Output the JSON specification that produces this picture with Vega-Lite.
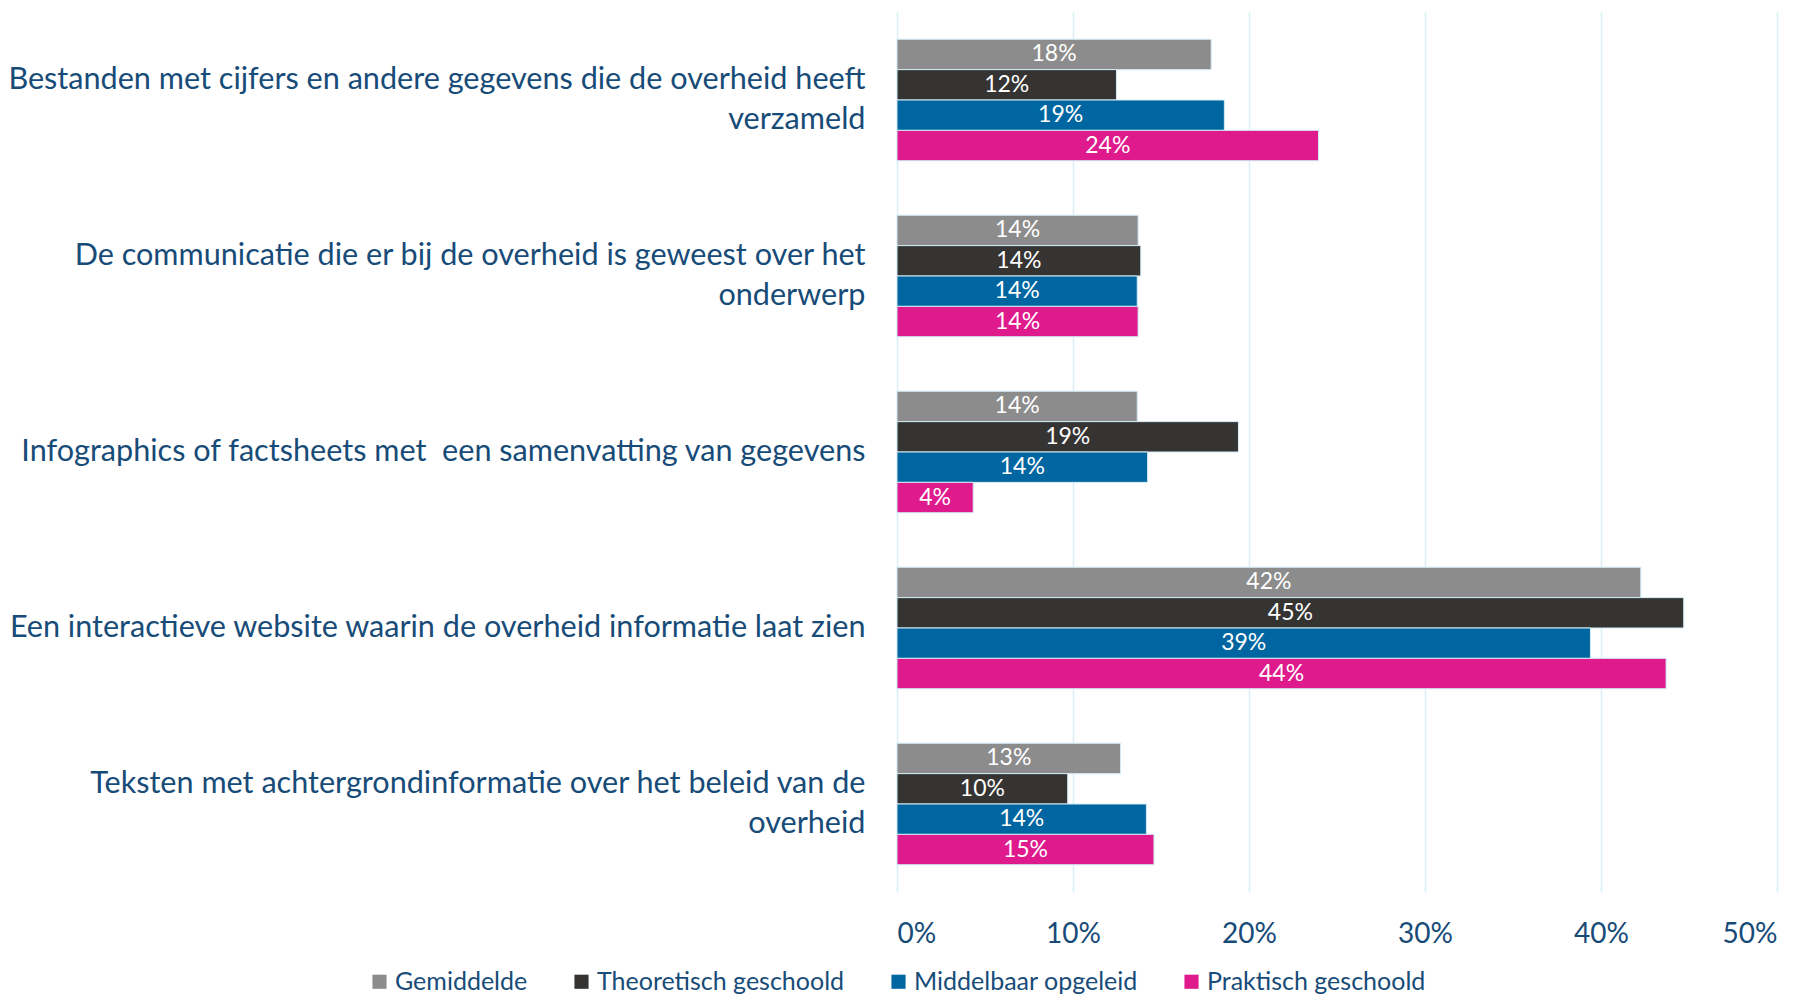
{
  "$schema": "https://vega.github.io/schema/vega-lite/v6.json",
  "autosize": {"type": "none"},
  "width": 880,
  "height": 880,
  "padding": {"left": 897, "top": 12, "right": 39, "bottom": 103},
  "background": "white",
  "config": {"view": {"stroke": null}, "font": "Lato"},
  "data": {"values": [
    {"cat": "Bestanden met cijfers en andere gegevens die de overheid heeft|verzameld", "order": 1, "series": "Gemiddelde", "s": 1, "value": 0.1785},
    {"cat": "Bestanden met cijfers en andere gegevens die de overheid heeft|verzameld", "order": 1, "series": "Theoretisch geschoold", "s": 2, "value": 0.1247},
    {"cat": "Bestanden met cijfers en andere gegevens die de overheid heeft|verzameld", "order": 1, "series": "Middelbaar opgeleid", "s": 3, "value": 0.186},
    {"cat": "Bestanden met cijfers en andere gegevens die de overheid heeft|verzameld", "order": 1, "series": "Praktisch geschoold", "s": 4, "value": 0.2395},
    {"cat": "De communicatie die er bij de overheid is geweest over het|onderwerp", "order": 2, "series": "Gemiddelde", "s": 1, "value": 0.137},
    {"cat": "De communicatie die er bij de overheid is geweest over het|onderwerp", "order": 2, "series": "Theoretisch geschoold", "s": 2, "value": 0.1385},
    {"cat": "De communicatie die er bij de overheid is geweest over het|onderwerp", "order": 2, "series": "Middelbaar opgeleid", "s": 3, "value": 0.1365},
    {"cat": "De communicatie die er bij de overheid is geweest over het|onderwerp", "order": 2, "series": "Praktisch geschoold", "s": 4, "value": 0.137},
    {"cat": "Infographics of factsheets met \u00a0een samenvatting van gegevens", "order": 3, "series": "Gemiddelde", "s": 1, "value": 0.1365},
    {"cat": "Infographics of factsheets met \u00a0een samenvatting van gegevens", "order": 3, "series": "Theoretisch geschoold", "s": 2, "value": 0.194},
    {"cat": "Infographics of factsheets met \u00a0een samenvatting van gegevens", "order": 3, "series": "Middelbaar opgeleid", "s": 3, "value": 0.1424},
    {"cat": "Infographics of factsheets met \u00a0een samenvatting van gegevens", "order": 3, "series": "Praktisch geschoold", "s": 4, "value": 0.0433},
    {"cat": "Een interactieve website waarin de overheid informatie laat zien", "order": 4, "series": "Gemiddelde", "s": 1, "value": 0.4226},
    {"cat": "Een interactieve website waarin de overheid informatie laat zien", "order": 4, "series": "Theoretisch geschoold", "s": 2, "value": 0.447},
    {"cat": "Een interactieve website waarin de overheid informatie laat zien", "order": 4, "series": "Middelbaar opgeleid", "s": 3, "value": 0.394},
    {"cat": "Een interactieve website waarin de overheid informatie laat zien", "order": 4, "series": "Praktisch geschoold", "s": 4, "value": 0.437},
    {"cat": "Teksten met achtergrondinformatie over het beleid van de|overheid", "order": 5, "series": "Gemiddelde", "s": 1, "value": 0.127},
    {"cat": "Teksten met achtergrondinformatie over het beleid van de|overheid", "order": 5, "series": "Theoretisch geschoold", "s": 2, "value": 0.097},
    {"cat": "Teksten met achtergrondinformatie over het beleid van de|overheid", "order": 5, "series": "Middelbaar opgeleid", "s": 3, "value": 0.1417},
    {"cat": "Teksten met achtergrondinformatie over het beleid van de|overheid", "order": 5, "series": "Praktisch geschoold", "s": 4, "value": 0.146}
  ]},
  "transform": [{"calculate": "datum.value / 2", "as": "mid"}],
  "encoding": {
    "y": {
      "field": "cat", "type": "nominal",
      "sort": {"field": "order", "op": "min"},
      "scale": {"paddingInner": 0.31, "paddingOuter": 0.155},
      "axis": {
        "title": null, "domain": false, "ticks": false,
        "labelExpr": "split(datum.label, '|')",
        "labelOffset": {"condition": {"test": "indexof(datum.value, '|') >= 0", "value": -20}, "value": 0},
        "labelFontSize": 30.6, "labelColor": "#174b78", "labelLimit": 1000,
        "labelPadding": 32, "labelLineHeight": 40, "labelFont": "Lato"
      }
    },
    "yOffset": {"field": "series", "type": "nominal", "sort": {"field": "s", "op": "min"}, "scale": {"paddingInner": 0, "paddingOuter": 0}}
  },
  "layer": [
    {
      "mark": {"type": "bar", "stroke": "#d3ebf4", "strokeWidth": 1},
      "encoding": {
        "x": {
          "field": "value", "type": "quantitative",
          "scale": {"domain": [0, 0.5], "nice": false},
          "axis": {
            "title": null, "format": ".0%", "values": [0, 0.1, 0.2, 0.3, 0.4, 0.5],
            "domain": false, "ticks": false, "grid": true, "gridColor": "#d9f0f8", "gridWidth": 1.5,
            "labelFontSize": 28, "labelColor": "#174b78", "labelPadding": 28, "labelFont": "Lato"
          }
        },
        "color": {
          "field": "series", "type": "nominal",
          "sort": ["Gemiddelde", "Theoretisch geschoold", "Middelbaar opgeleid", "Praktisch geschoold"],
          "scale": {"domain": ["Gemiddelde", "Theoretisch geschoold", "Middelbaar opgeleid", "Praktisch geschoold"], "range": ["#8c8c8c", "#353433", "#0066a1", "#de1a8c"]},
          "legend": {
            "title": null, "orient": "none", "direction": "horizontal",
            "legendX": -530, "legendY": 957,
            "symbolType": "square", "symbolSize": 200, "symbolStrokeWidth": 0,
            "labelFontSize": 25, "labelColor": "#174b78", "labelFont": "Lato", "labelOffset": 3,
            "columnPadding": 41, "labelLimit": 500
          }
        }
      }
    },
    {
      "mark": {"type": "text", "color": "white", "fontSize": 23, "font": "Lato", "baseline": "middle", "align": "center"},
      "encoding": {
        "x": {"field": "mid", "type": "quantitative"},
        "text": {"field": "value", "type": "quantitative", "format": ".0%"}
      }
    }
  ]
}
